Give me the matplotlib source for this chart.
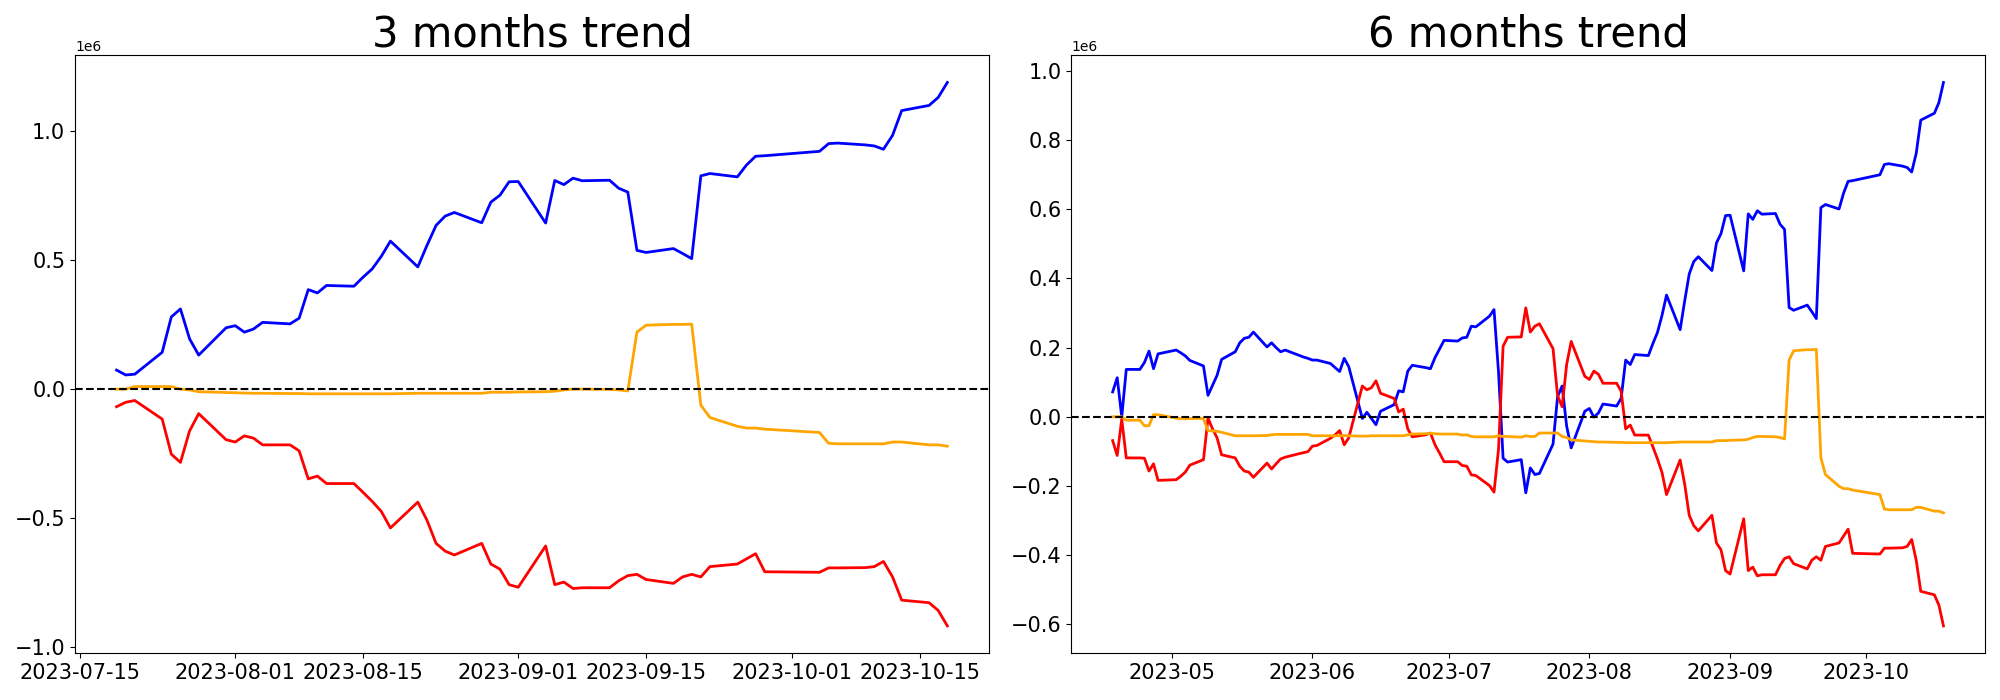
import numpy as np
import pandas as pd
import matplotlib
matplotlib.use("Agg")
import matplotlib.pyplot as plt

# trading days (weekdays without the days missing in the data)
days_6m = pd.bdate_range("2023-04-18", "2023-10-18")
days_6m = days_6m.drop(pd.to_datetime(["2023-05-01", "2023-09-29", "2023-10-02", "2023-10-03"]))
days_3m = days_6m[days_6m >= "2023-07-19"]

#======= 3 months (1e6) =======
blue_3m = [0.072, 0.053, 0.056, 0.141, 0.278, 0.309, 0.193, 0.130, 0.236,
           0.244, 0.219, 0.231, 0.257, 0.251, 0.273, 0.384, 0.371, 0.400, 0.397, 0.432, 0.464, 0.513, 0.572,
           0.472, 0.555, 0.633, 0.669, 0.683, 0.643, 0.723, 0.750, 0.802,
           0.803, 0.642, 0.807, 0.791, 0.816, 0.806, 0.808, 0.777, 0.762, 0.536, 0.528, 0.543, 0.524, 0.504,
           0.825, 0.834, 0.821, 0.867, 0.901, 0.903,
           0.920, 0.950, 0.952, 0.945, 0.941, 0.928, 0.982, 1.078, 1.098, 1.129, 1.187]
red_3m = [-0.070, -0.053, -0.046, -0.118, -0.254, -0.286, -0.164, -0.097, -0.198,
          -0.207, -0.183, -0.192, -0.218, -0.218, -0.241, -0.350, -0.339, -0.368, -0.368, -0.402, -0.437, -0.476, -0.540,
          -0.440, -0.510, -0.600, -0.630, -0.645, -0.600, -0.680, -0.700, -0.760,
          -0.770, -0.610, -0.760, -0.750, -0.775, -0.772, -0.772, -0.745, -0.725, -0.720, -0.740, -0.755, -0.730, -0.720,
          -0.730, -0.690, -0.680, -0.660, -0.640, -0.710,
          -0.712, -0.695, -0.695, -0.694, -0.690, -0.670, -0.730, -0.820, -0.830, -0.860, -0.920]
orange_3m = [-0.002, -0.002, 0.008, 0.008, 0.008, -0.002, -0.005, -0.012, -0.015,
             -0.016, -0.017, -0.018, -0.018, -0.019, -0.019, -0.020, -0.020, -0.020, -0.020, -0.020, -0.020, -0.020, -0.020,
             -0.018, -0.018, -0.018, -0.018, -0.018, -0.018, -0.014, -0.014, -0.014,
             -0.013, -0.012, -0.010, -0.005, -0.002, -0.002, -0.003, -0.005, -0.009, 0.219, 0.246, 0.249, 0.249, 0.250,
             -0.064, -0.112, -0.146, -0.153, -0.153, -0.157,
             -0.170, -0.212, -0.214, -0.214, -0.214, -0.214, -0.207, -0.207, -0.218, -0.218, -0.223]

#======= 6 months (1e6) =======
blue_6m = [0.072, 0.113, 0.000, 0.137, 0.137, 0.157, 0.190, 0.139, 0.182,
           0.193, 0.185, 0.176, 0.163, 0.147, 0.062, 0.091, 0.120, 0.166, 0.188, 0.214, 0.227, 0.230, 0.245,
           0.202, 0.214, 0.200, 0.188, 0.193, 0.178, 0.173, 0.169,
           0.164, 0.164, 0.154, 0.142, 0.131, 0.169, 0.145, -0.005, 0.013, -0.005, -0.023, 0.016,
           0.035, 0.075, 0.072, 0.132, 0.149, 0.142, 0.139, 0.171, 0.196, 0.221,
           0.219, 0.228, 0.230, 0.262, 0.260, 0.291, 0.310, 0.128, -0.120, -0.131, -0.124, -0.220,
           -0.148, -0.167, -0.164, -0.079, 0.058, 0.089, -0.027, -0.090, 0.016,
           0.024, -0.001, 0.011, 0.037, 0.031, 0.053, 0.164, 0.151, 0.180, 0.177, 0.212, 0.244, 0.293, 0.352,
           0.252, 0.335, 0.413, 0.449, 0.463, 0.423, 0.503, 0.530, 0.582,
           0.583, 0.422, 0.587, 0.571, 0.596, 0.586, 0.588, 0.557, 0.542, 0.316, 0.308, 0.323, 0.304, 0.284,
           0.605, 0.614, 0.601, 0.647, 0.681, 0.683,
           0.700, 0.730, 0.732, 0.725, 0.721, 0.708, 0.762, 0.858, 0.878, 0.909, 0.967]
red_6m = [-0.069, -0.112, -0.007, -0.119, -0.119, -0.120, -0.157, -0.136, -0.184,
          -0.182, -0.172, -0.160, -0.140, -0.124, -0.004, -0.035, -0.061, -0.110, -0.119, -0.143, -0.157, -0.160, -0.175,
          -0.134, -0.151, -0.136, -0.122, -0.117, -0.107, -0.104, -0.101,
          -0.085, -0.083, -0.062, -0.052, -0.040, -0.081, -0.061, 0.089, 0.078, 0.084, 0.104, 0.068,
          0.053, 0.014, 0.022, -0.035, -0.058, -0.052, -0.047, -0.081, -0.105, -0.130,
          -0.130, -0.141, -0.143, -0.168, -0.170, -0.199, -0.218, -0.093, 0.204, 0.230, 0.231, 0.315,
          0.245, 0.262, 0.269, 0.197, 0.061, 0.029, 0.151, 0.218, 0.117,
          0.108, 0.132, 0.123, 0.097, 0.097, 0.074, -0.035, -0.024, -0.053, -0.053, -0.087, -0.122, -0.161, -0.225,
          -0.125, -0.195, -0.285, -0.315, -0.330, -0.285, -0.365, -0.385, -0.445,
          -0.455, -0.295, -0.445, -0.435, -0.460, -0.457, -0.457, -0.430, -0.410, -0.405, -0.425, -0.440, -0.415, -0.405,
          -0.415, -0.375, -0.365, -0.345, -0.325, -0.395,
          -0.397, -0.380, -0.380, -0.379, -0.375, -0.355, -0.415, -0.505, -0.515, -0.545, -0.605]
orange_6m = [0.000, 0.000, 0.000, -0.010, -0.010, -0.026, -0.026, 0.006, 0.006,
             -0.004, -0.005, -0.006, -0.005, -0.005, -0.040, -0.041, -0.042, -0.045, -0.055, -0.055, -0.055, -0.055, -0.055,
             -0.054, -0.052, -0.051, -0.051, -0.051, -0.051, -0.051, -0.051,
             -0.055, -0.055, -0.055, -0.055, -0.055, -0.054, -0.055, -0.056, -0.056, -0.055, -0.055, -0.055,
             -0.055, -0.055, -0.055, -0.052, -0.050, -0.049, -0.048, -0.049, -0.050, -0.050,
             -0.050, -0.053, -0.052, -0.057, -0.058, -0.058, -0.058, -0.055, -0.057, -0.057, -0.059, -0.055,
             -0.057, -0.057, -0.047, -0.047, -0.047, -0.057, -0.060, -0.067, -0.070,
             -0.071, -0.072, -0.073, -0.073, -0.074, -0.074, -0.075, -0.075, -0.075, -0.075, -0.075, -0.075, -0.075, -0.075,
             -0.073, -0.073, -0.073, -0.073, -0.073, -0.073, -0.069, -0.069, -0.069,
             -0.068, -0.067, -0.065, -0.060, -0.057, -0.057, -0.058, -0.060, -0.064, 0.164, 0.191, 0.194, 0.194, 0.195,
             -0.119, -0.167, -0.201, -0.208, -0.208, -0.212,
             -0.225, -0.267, -0.269, -0.269, -0.269, -0.269, -0.262, -0.262, -0.273, -0.273, -0.278]

fig, axes = plt.subplots(1, 2, figsize=(20, 7), dpi=100)

panels = [("3 months trend", days_3m, blue_3m, red_3m, orange_3m),
          ("6 months trend", days_6m, blue_6m, red_6m, orange_6m)]

for ax, (title, days, b, r, o) in zip(axes, panels):
    ax.plot(days, np.array(b) * 1e6, color="blue", lw=2)
    ax.plot(days, np.array(r) * 1e6, color="red", lw=2)
    ax.plot(days, np.array(o) * 1e6, color="orange", lw=2)
    ax.axhline(0, color="black", ls="--", lw=1.5)
    ax.set_title(title, fontsize=30)
    ax.tick_params(labelsize=15)

fig.subplots_adjust(left=0.0375, right=0.9925, top=0.921, bottom=0.067, wspace=0.09)
fig.savefig("out.png")
